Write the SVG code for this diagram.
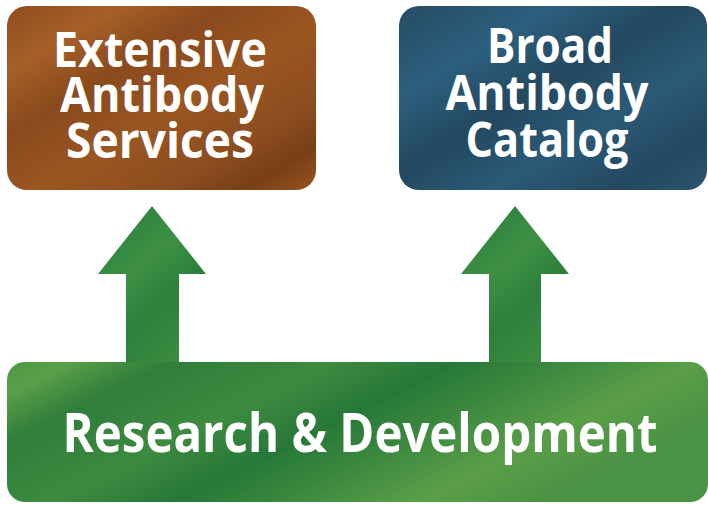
<svg xmlns="http://www.w3.org/2000/svg" width="708" height="505" viewBox="0 0 708 505">
<style>
.lbl{font-family:"Open Sans","Noto Sans","Liberation Sans",sans-serif;font-weight:700;fill:#ffffff;text-anchor:middle}
.top{font-size:49px}
.bot{font-size:53px}
</style>
<defs>
<linearGradient id="gBrown" x1="0" y1="0" x2="1" y2="1">
<stop offset="0" stop-color="#8e4c1f"/>
<stop offset="0.18" stop-color="#a65f27"/>
<stop offset="0.35" stop-color="#8a4a1d"/>
<stop offset="0.55" stop-color="#9a5622"/>
<stop offset="0.75" stop-color="#8d4d1f"/>
<stop offset="0.88" stop-color="#7a3f17"/>
<stop offset="1" stop-color="#96541f"/>
</linearGradient>
<linearGradient id="gBlue" x1="0" y1="0" x2="1" y2="1">
<stop offset="0" stop-color="#264b63"/>
<stop offset="0.25" stop-color="#2c5f7e"/>
<stop offset="0.45" stop-color="#23485f"/>
<stop offset="0.65" stop-color="#2b5a77"/>
<stop offset="0.85" stop-color="#244862"/>
<stop offset="1" stop-color="#2a5570"/>
</linearGradient>
<linearGradient id="gGreen" x1="0" y1="0" x2="1" y2="0.4">
<stop offset="0" stop-color="#4c9645"/>
<stop offset="0.08" stop-color="#5a9f48"/>
<stop offset="0.2" stop-color="#2f7e3a"/>
<stop offset="0.4" stop-color="#3d8a40"/>
<stop offset="0.55" stop-color="#277838"/>
<stop offset="0.7" stop-color="#3e8b40"/>
<stop offset="0.85" stop-color="#5b9e48"/>
<stop offset="1" stop-color="#4a9244"/>
</linearGradient>
<linearGradient id="gArrow" x1="0" y1="0" x2="0.6" y2="1">
<stop offset="0" stop-color="#267a3a"/>
<stop offset="0.45" stop-color="#3f9045"/>
<stop offset="0.7" stop-color="#2d7f3b"/>
<stop offset="1" stop-color="#3a8a40"/>
</linearGradient>
</defs>
<g id="connectors">
<polygon id="arrow-left" fill="url(#gArrow)" points="152,206 206,274 179,274 179,366 126,366 126,274 98,274"/>
<polygon id="arrow-right" fill="url(#gArrow)" points="515,206 569,274 541,274 541,366 489,366 489,274 461,274"/>
</g>
<g id="node-services">
<rect x="7" y="6" width="309" height="184" rx="20" ry="20" fill="url(#gBrown)"/>
<text class="lbl top" x="160" y="67" textLength="214" lengthAdjust="spacingAndGlyphs">Extensive</text>
<text class="lbl top" x="162" y="112" textLength="204" lengthAdjust="spacingAndGlyphs">Antibody</text>
<text class="lbl top" x="160" y="158" textLength="188" lengthAdjust="spacingAndGlyphs">Services</text>
</g>
<g id="node-catalog">
<rect x="399" y="6" width="308" height="184" rx="20" ry="20" fill="url(#gBlue)"/>
<text class="lbl top" x="550" y="63" textLength="126" lengthAdjust="spacingAndGlyphs">Broad</text>
<text class="lbl top" x="547" y="110" textLength="203" lengthAdjust="spacingAndGlyphs">Antibody</text>
<text class="lbl top" x="547" y="157" textLength="163" lengthAdjust="spacingAndGlyphs">Catalog</text>
</g>
<g id="node-rd">
<rect x="7" y="362" width="701" height="140" rx="18" ry="18" fill="url(#gGreen)"/>
<text class="lbl bot" x="360" y="452" textLength="595" lengthAdjust="spacingAndGlyphs">Research &amp; Development</text>
</g>
</svg>
